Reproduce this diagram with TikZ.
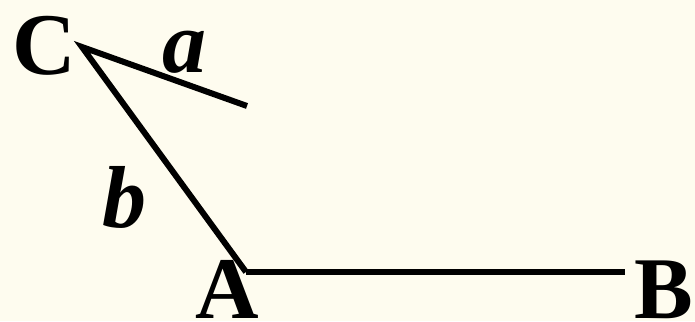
\documentclass[tikz,border=0pt]{standalone}
\usepackage{fontspec}
\setmainfont{Liberation Serif}
\definecolor{bgcream}{HTML}{FEFCEF}
\tikzset{
  side/.style={line width=6pt,line join=miter},
  lbl/.style={anchor=base,inner sep=0pt,font=\fontsize{88}{88}\selectfont\bfseries},
  lblit/.style={lbl,font=\fontsize{88}{88}\selectfont\bfseries\itshape}
}
\begin{document}
\begin{tikzpicture}[x=1pt,y=1pt]
  \useasboundingbox (0,0) rectangle (695,321);
  \fill[bgcream] (0,0) rectangle (695,321);
  % vertices
  \coordinate (C) at (82,274);
  \coordinate (aend) at (247,215);
  \coordinate (A) at (246,49);
  \coordinate (B) at (625,49);
  \draw[side] (aend) -- (C) -- (A);
  \draw[side] (A) -- (B);
  % labels
  \node[lbl] (labC) at (44,246) {C};
  \node[lblit] (laba) at (184,248) {a};
  \node[lblit] (labb) at (124,93) {b};
  \node[lbl] (labA) at (227,3) {A};
  \node[lbl] (labB) at (664,3) {B};
\end{tikzpicture}
\end{document}
